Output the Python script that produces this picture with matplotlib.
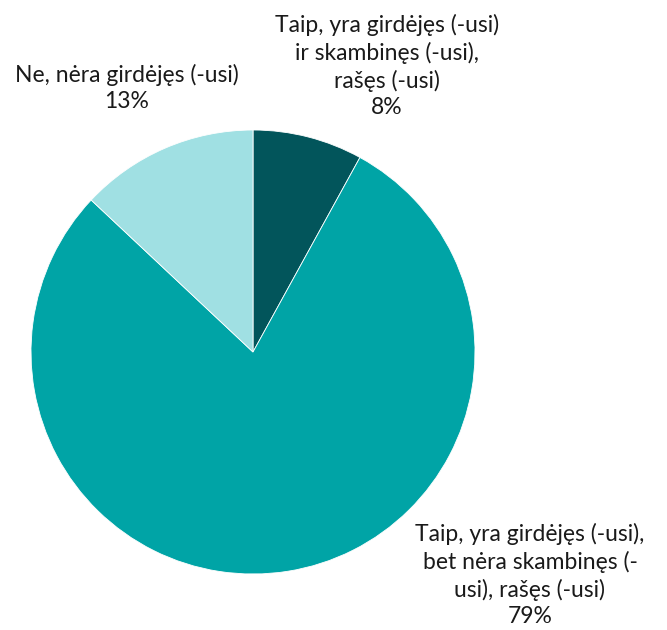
import matplotlib
matplotlib.use('Agg')
import matplotlib.pyplot as plt

labels = ['Taip, yra girdėjęs (-usi)\nir skambinęs (-usi),\nrašęs (-usi)',
          'Taip, yra girdėjęs (-usi),\nbet nėra skambinęs (-\nusi), rašęs (-usi)',
          'Ne, nėra girdėjęs (-usi)']
values = [8, 79, 13]
colors = ['#02555B', '#00A4A6', '#A0E0E3']

# label centres in pixels (x, y from top)
label_pos = [(387, 66), (530, 575), (127, 88)]

plt.rcParams['font.family'] = ['Lato', 'DejaVu Sans']

W, H = 667, 630
fig = plt.figure(figsize=(W / 100, H / 100), dpi=100)
cx, cy, r = 253, 352, 222
ax = fig.add_axes([(cx - r) / W, (H - cy - r) / H, 2 * r / W, 2 * r / H])

ax.pie(values, colors=colors, startangle=90, counterclock=False,
       wedgeprops=dict(edgecolor='white', linewidth=0.6))
ax.set_xlim(-1, 1)
ax.set_ylim(-1, 1)
ax.set_aspect('equal')

for lab, v, (px, py) in zip(labels, values, label_pos):
    fig.text(px / W, 1 - py / H, f'{lab}\n{v}%', ha='center', va='center',
             fontsize=16.5, color='#1a1a1a', linespacing=1.3)

fig.savefig('out.png', dpi=100)
